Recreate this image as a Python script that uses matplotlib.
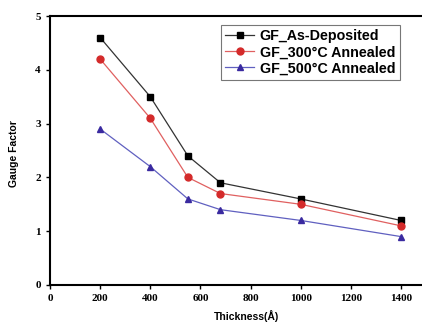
import matplotlib
matplotlib.use("Agg")
import matplotlib.pyplot as plt

thickness = [200, 400, 550, 680, 1000, 1400]
gf_asdep = [4.6, 3.5, 2.4, 1.9, 1.6, 1.2]
gf_300 = [4.2, 3.1, 2.0, 1.7, 1.5, 1.1]
gf_500 = [2.9, 2.2, 1.6, 1.4, 1.2, 0.9]
labels = ["GF_As-Deposited", "GF_300\u00b0C Annealed", "GF_500\u00b0C Annealed"]

plt.rcParams['font.family'] = ['Liberation Sans', 'DejaVu Sans']
fig = plt.figure(figsize=(4.22, 3.27), dpi=100)
ax = fig.add_axes([50/422, 42/327, 1 - 50/422, (285-16)/327])

ax.plot(thickness, gf_asdep, color='#333333', lw=0.9, marker='s', ms=4.5, mfc='black', mec='black', label=labels[0])
ax.plot(thickness, gf_300, color='#e06060', lw=0.9, marker='o', ms=5, mfc='#d42a2a', mec='#d42a2a', label=labels[1])
ax.plot(thickness, gf_500, color='#6060c0', lw=0.9, marker='^', ms=5, mfc='#3a2aa0', mec='#3a2aa0', label=labels[2])

ax.set_xlim(0, 1484)
ax.set_ylim(0, 5)
ax.set_xticks([0, 200, 400, 600, 800, 1000, 1200, 1400])
ax.set_yticks([0, 1, 2, 3, 4, 5])
ax.spines['right'].set_visible(False)
for s in ['left', 'bottom', 'top']:
    ax.spines[s].set_linewidth(1.5)
ax.tick_params(direction='out', length=3, width=1, labelsize=8)
for t in ax.get_xticklabels() + ax.get_yticklabels():
    t.set_fontweight('bold')
    t.set_family(['Liberation Serif', 'DejaVu Serif'])
ax.set_xlabel("Thickness(\u00c5)", fontsize=7.5, fontweight='bold')
ax.set_ylabel("Gauge Factor", fontsize=7.5, fontweight='bold')
ax.xaxis.set_label_coords(0.527, -0.095)
ax.yaxis.set_label_coords(-0.083, 0.49)

leg = ax.legend(loc='upper left', bbox_to_anchor=(0.46, 0.967), frameon=True,
                fancybox=False, edgecolor='#555555', handlelength=2, borderpad=0.3,
                labelspacing=0.15, handletextpad=0.4, borderaxespad=0,
                prop={'weight': 'bold', 'size': 10.3})
leg.get_frame().set_linewidth(0.8)

fig.savefig("out.png", dpi=100)
